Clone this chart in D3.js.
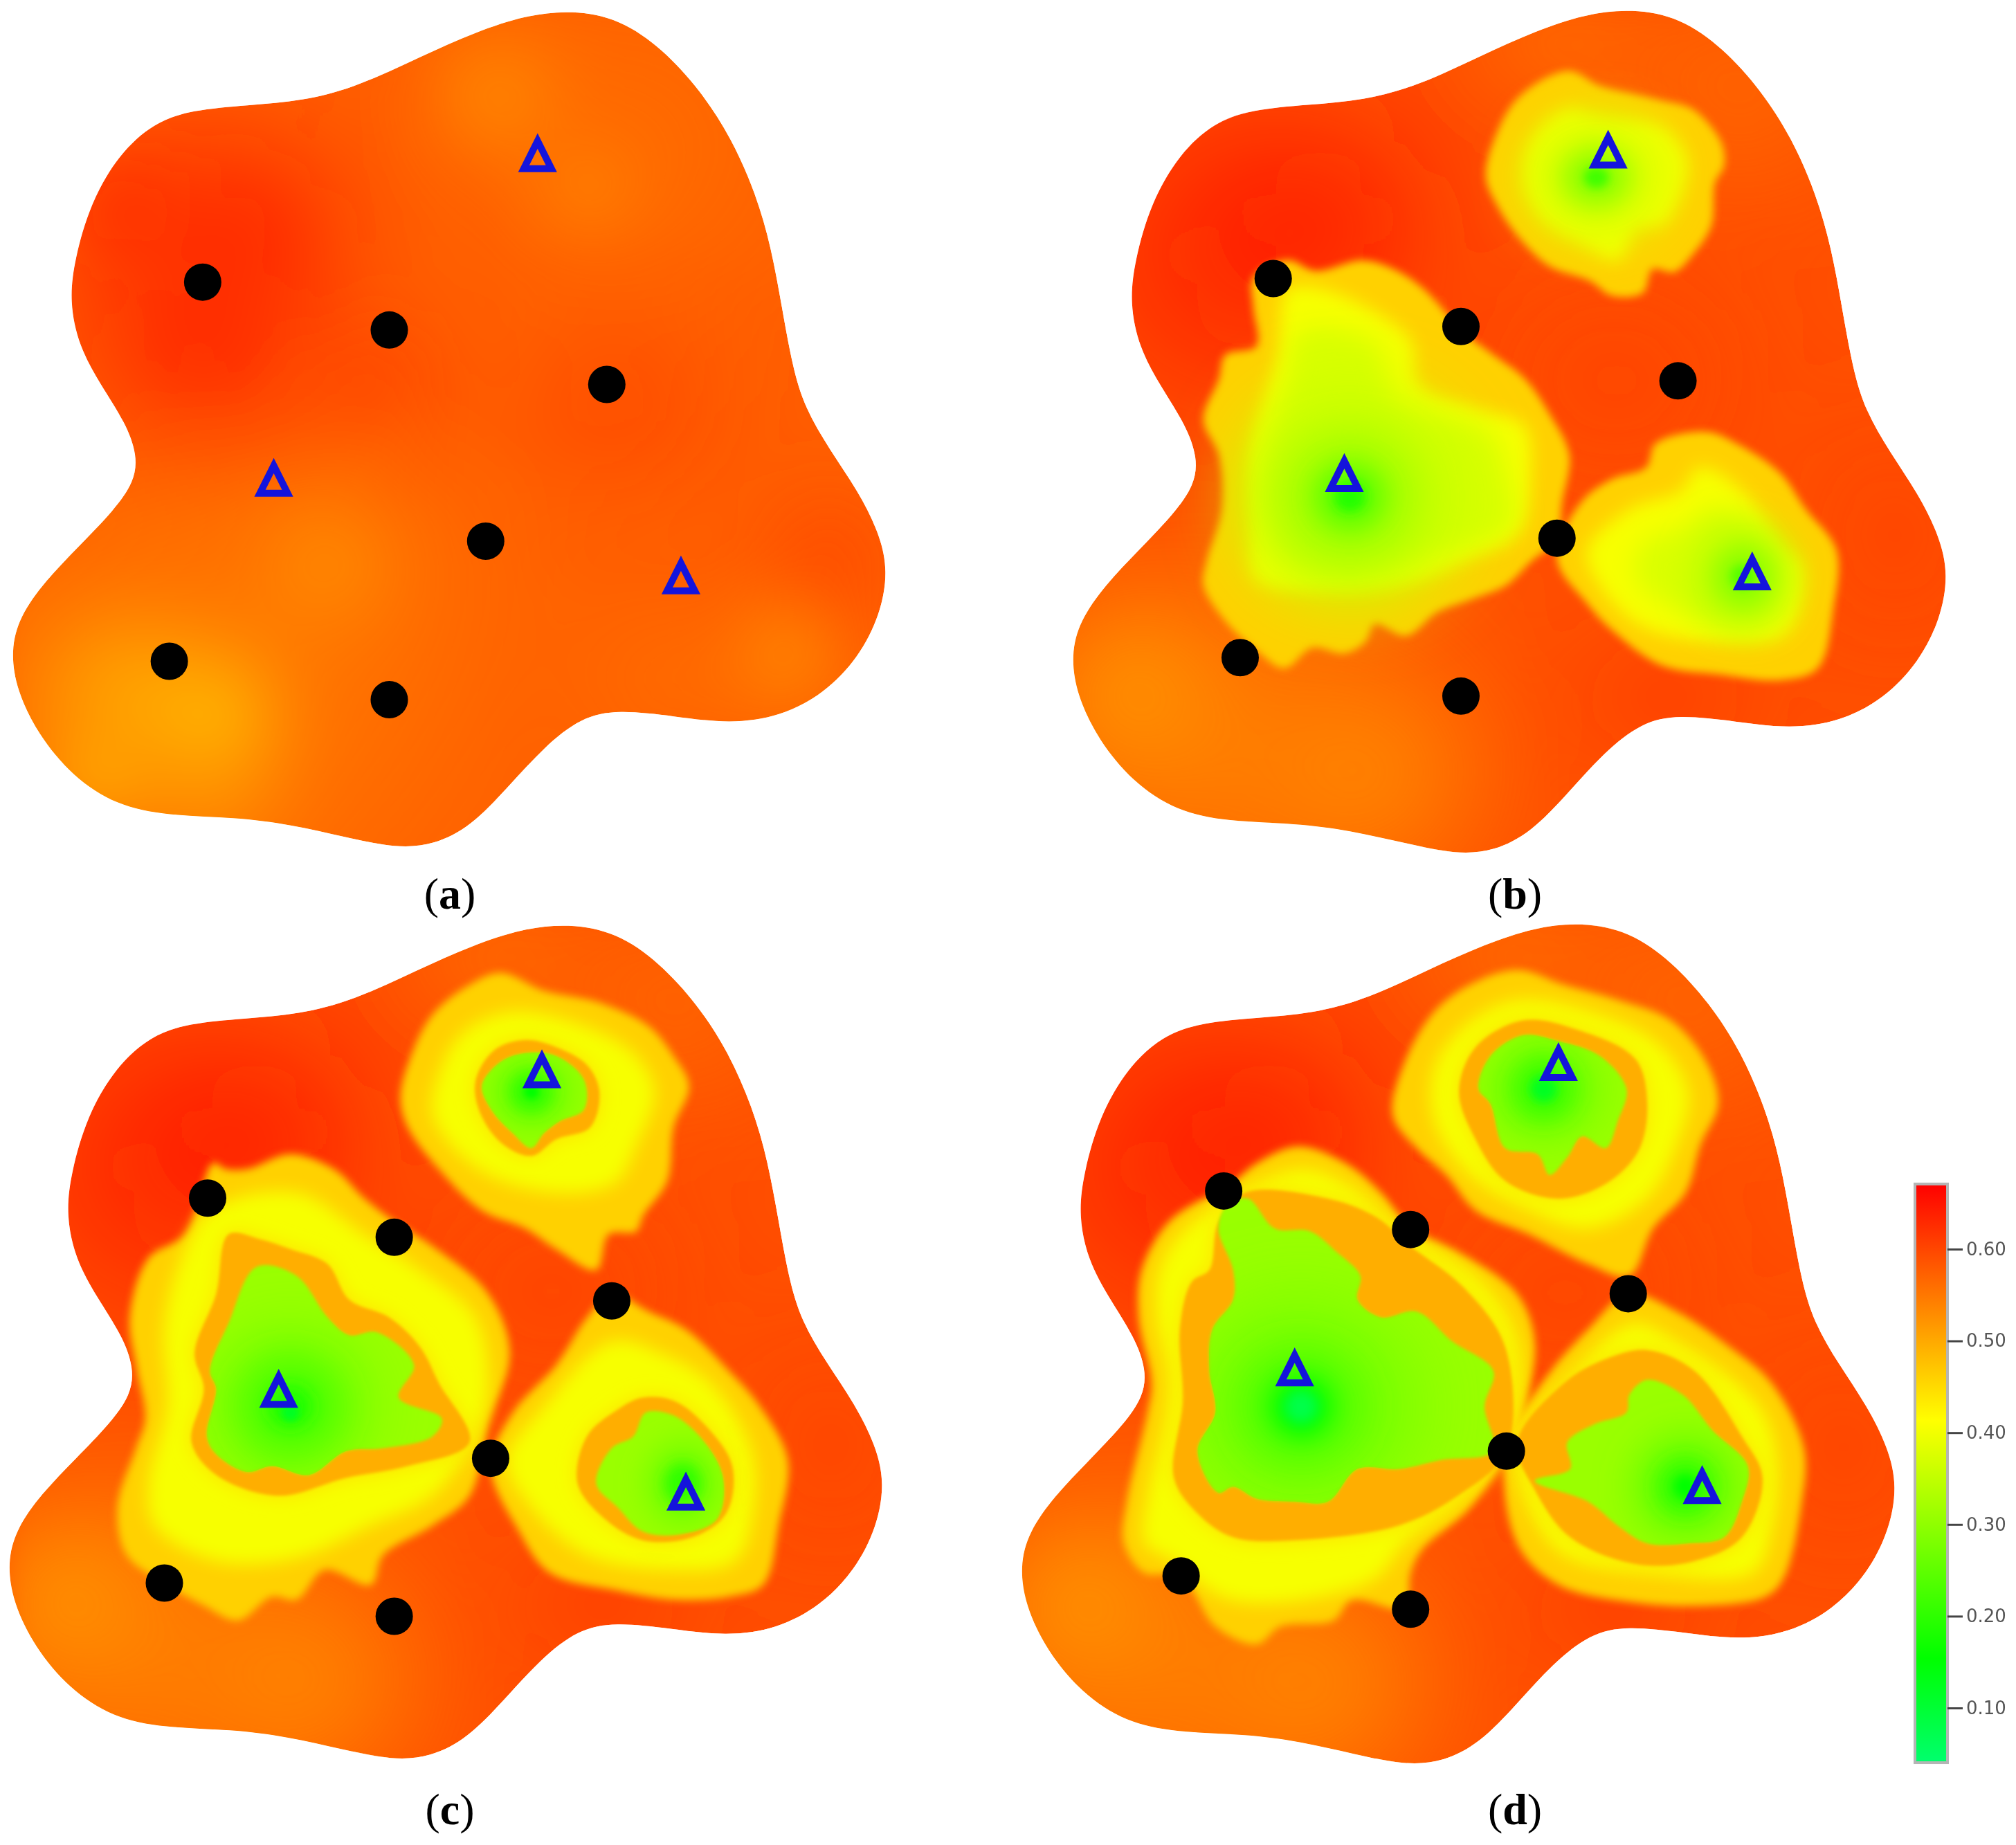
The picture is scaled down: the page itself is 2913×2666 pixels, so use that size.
<!DOCTYPE html>
<html>
<head>
<meta charset="utf-8">
<script src="https://cdn.jsdelivr.net/npm/d3@7"></script>
<style>
  html, body { margin: 0; background: #fff; }
  svg { display: block; }
</style>
</head>
<body>
<div id="chart"></div>
<script>
// ===== colour bar =====
const barTicks = [0.6, 0.5, 0.4, 0.3, 0.2, 0.1];
const colorStops = [0.0404, 0.154, 0.413, 0.671];
const colorValues = ['#00ff6e', '#00ff00', '#ffff00', '#ff0000'];
const barRange = [0.671, 0.0404];

// ===== domain outline =====
const outline = [[925,17],[1003,32],[1072,83],[1133,153],[1183,233],[1223,328],[1248,420],[1265,520],[1282,620],[1302,690],[1342,760],[1388,830],[1422,900],[1437,965],[1424,1040],[1389,1112],[1333,1173],[1262,1212],[1180,1224],[1090,1211],[1000,1200],[940,1213],[880,1263],[820,1333],[762,1397],[702,1429],[640,1434],[560,1416],[470,1394],[380,1382],[270,1379],[188,1362],[117,1313],[61,1242],[26,1166],[17,1100],[31,1043],[72,983],[128,923],[184,863],[217,815],[222,770],[203,715],[162,650],[127,585],[112,510],[120,440],[146,343],[192,261],[248,208],[310,186],[400,178],[490,171],[580,146],[680,96],[770,54],[850,26]];

// background potential: [x, y, rx, ry, value]
const backgroundA = [[1000,250,220,170,0.555],[500,950,280,160,0.55],[300,470,240,230,0.615],[390,390,120,90,0.64],[330,590,120,90,0.64],[200,350,80,80,0.625],[600,640,100,70,0.605],[1000,690,150,80,0.61],[1340,950,80,100,0.6],[800,160,90,90,0.53],[950,320,70,60,0.54],[530,950,90,90,0.53],[250,1230,320,200,0.52],[200,1170,110,80,0.485],[340,1210,90,80,0.475],[160,1310,70,60,0.495],[330,1340,100,40,0.495],[1270,1110,80,80,0.53],[1100,1150,130,60,0.55]];
const backgroundRest = [[300,430,240,210,0.64],[420,370,130,70,0.65],[900,640,180,120,0.605],[1350,900,90,170,0.605],[980,1170,130,50,0.62],[1100,150,160,120,0.56],[800,70,130,50,0.53],[230,1250,280,190,0.51],[120,1160,110,110,0.52],[500,1300,150,120,0.525]];

// ===== wells, by panel, in each panel's own crop coordinates =====
const rimB = [
  [[850,120],[900,145],[960,160],[1000,170],[1050,185],[1095,240],[1100,280],[1085,310],[1080,380],[1050,430],[1020,460],[985,455],[970,495],[920,500],[885,475],[820,450],[770,400],[735,345],[718,300],[730,240],[770,165]],
  [[400,440],[445,458],[520,440],[570,455],[620,490],[680,560],[730,600],[780,640],[820,700],[852,770],[840,850],[832,910],[790,950],[750,990],[690,1015],[640,1035],[590,1075],[540,1055],[525,1085],[490,1105],[440,1095],[395,1130],[350,1100],[300,1050],[265,990],[270,950],[295,860],[290,770],[265,710],[290,640],[300,600],[350,585],[345,520],[345,470]],
  [[1070,730],[1120,750],[1190,800],[1230,860],[1280,930],[1275,1030],[1250,1130],[1190,1150],[1090,1140],[1000,1125],[920,1065],[880,1020],[832,945],[870,850],[920,810],[975,790],[990,750]]
];
const ridgeB = [
  [[850,185],[900,200],[1000,215],[1040,270],[1030,330],[1000,380],[960,385],[930,440],[870,410],[810,370],[780,310],[790,240]],
  [[400,490],[460,490],[560,540],[600,580],[610,650],[700,690],[780,720],[790,800],[770,900],[700,940],[600,985],[480,1000],[350,980],[340,880],[340,760],[370,650],[385,600]],
  [[1060,790],[1130,830],[1190,920],[1225,960],[1200,1070],[1090,1085],[970,1060],[900,990],[880,930],[950,860],[1030,830]]
];
const limeB = [
  [[420,560],[540,580],[570,680],[720,730],[750,800],[760,890],[600,940],[440,960],[380,900],[375,760],[400,650]],
  [[1080,860],[1150,900],[1190,970],[1170,1040],[1050,1040],[960,980],[970,920],[1040,890]]
];
const spotsB = [[895,300,110,100,0.37],[895,300,55,50,0.3],[895,300,20,18,0.22],[500,840,170,170,0.35],[500,840,100,100,0.31],[500,840,55,55,0.25],[500,840,25,25,0.19],[1130,975,80,90,0.34],[1130,975,45,50,0.3],[1130,975,20,20,0.24]];
const dotsB = [[377,471],[678,552],[1026,644],[832,910],[324,1112],[678,1177]];
const trianglesB = [[914,285],[491,832],[1145,998]];

const rimC = [
  [[810,100],[880,130],[970,150],[1050,190],[1090,240],[1115,290],[1090,360],[1080,450],[1040,510],[1030,535],[985,540],[965,600],[900,565],[850,530],[780,500],[710,430],[660,360],[648,310],[665,240],[700,170],[760,120]],
  [[470,405],[540,430],[590,480],[640,520],[700,560],[790,640],[825,740],[790,860],[760,980],[700,1030],[620,1080],[600,1130],[525,1105],[480,1155],[440,1150],[385,1190],[330,1165],[270,1130],[205,1080],[190,1000],[220,900],[235,850],[220,760],[210,680],[240,580],[300,540],[345,420],[365,430],[400,430]],
  [[990,640],[1050,670],[1110,700],[1180,770],[1230,830],[1275,920],[1260,1030],[1235,1130],[1180,1150],[1090,1155],[1000,1140],[890,1110],[840,1040],[794,930],[830,840],[900,760],[950,680]]
];
const ridgeC = [
  [[830,165],[960,195],[1030,240],[1060,300],[1030,390],[1000,450],[940,470],[840,460],[760,420],[700,340],[710,270],[750,200]],
  [[340,500],[480,470],[590,540],[680,600],[770,680],[790,800],[770,880],[700,980],[600,1030],[480,1085],[350,1090],[250,1030],[240,960],[270,830],[265,700],[290,590]],
  [[990,720],[1070,740],[1150,790],[1215,900],[1220,1000],[1190,1090],[1080,1105],[950,1080],[860,1000],[820,920],[880,830]]
];
const ringC = [
  [[850,213],[900,225],[950,255],[970,300],[955,360],[900,380],[860,408],[810,385],[775,330],[770,280],[800,230]],
  [[370,540],[420,548],[470,565],[530,590],[565,650],[630,680],[680,730],[710,790],[760,890],[660,930],[560,950],[450,980],[350,945],[310,890],[330,800],[315,740],[350,640]],
  [[1040,815],[1090,820],[1140,860],[1185,930],[1175,1010],[1120,1050],[1040,1055],[980,1020],[935,960],[950,880],[1000,835]]
];
const coreC = [
  [[850,235],[900,240],[945,280],[945,330],[905,350],[880,370],[860,395],[830,370],[795,330],[780,290],[810,250]],
  [[415,595],[480,610],[530,680],[565,710],[610,705],[670,760],[645,815],[715,850],[700,880],[620,900],[560,905],[500,945],[440,930],[400,940],[350,910],[335,880],[350,800],[340,770],[370,690]],
  [[1045,840],[1090,845],[1140,890],[1170,950],[1160,1020],[1100,1045],[1040,1040],[1000,1000],[965,960],[990,900],[1025,880]]
];
const spotsC = [[860,300,70,65,0.27],[860,300,35,35,0.2],[860,300,12,12,0.16],[470,830,130,130,0.27],[470,830,80,80,0.23],[470,830,35,35,0.18],[470,840,14,14,0.12],[1105,960,60,70,0.27],[1105,960,30,35,0.2]];
const dotsC = [[336,479],[638,545],[990,652],[794,917],[266,1127],[638,1183]];
const trianglesC = [[877,294],[451,832],[1110,1005]];

const rimD = [
  [[880,95],[960,120],[1050,145],[1140,180],[1200,250],[1220,320],[1190,390],[1165,470],[1110,530],[1070,610],[1000,590],[900,540],[810,500],[760,440],[710,395],[670,340],[690,250],[740,165],[800,120]],
  [[510,392],[590,420],[650,470],[700,530],[780,570],[880,640],[910,720],[895,820],[862,905],[800,1000],[720,1070],[700,1110],[690,1170],[600,1155],[570,1190],[480,1200],[440,1230],[370,1200],[312,1115],[250,1110],[215,1060],[220,990],[255,840],[262,790],[240,680],[245,600],[290,520],[350,480],[384,467],[440,420]],
  [[1068,640],[1150,670],[1240,730],[1310,790],[1365,900],[1360,1000],[1330,1120],[1300,1150],[1200,1165],[1080,1160],[950,1130],[880,1060],[862,905],[930,780],[1000,700]]
];
const ridgeD = [
  [[880,145],[1020,170],[1120,220],[1170,300],[1150,390],[1100,480],[1000,530],[900,500],[800,440],[740,350],[740,260],[790,190]],
  [[510,430],[600,460],[680,530],[820,620],[880,720],[870,880],[780,990],[690,1060],[640,1120],[480,1160],[380,1150],[300,1090],[250,1060],[255,980],[285,850],[290,780],[270,680],[275,600],[320,530]],
  [[1075,690],[1150,720],[1290,830],[1320,920],[1310,1040],[1280,1110],[1100,1110],[960,1080],[900,1000],[880,900],[960,790]]
];
const ringD = [
  [[890,180],[980,195],[1080,245],[1100,320],[1085,400],[1030,455],[950,480],[860,450],[810,380],[782,300],[810,225]],
  [[420,470],[560,480],[640,510],[700,560],[790,630],[860,730],[862,905],[780,980],[680,1030],[500,1055],[400,1050],[340,1010],[300,950],[315,820],[310,700],[330,620],[360,600],[375,520]],
  [[1100,735],[1180,770],[1260,880],[1295,950],[1260,1050],[1180,1090],[1080,1095],[970,1050],[910,970],[880,890],[960,790],[1030,750]]
];
const coreD = [
  [[890,205],[950,215],[1020,240],[1065,295],[1050,350],[1030,395],[990,375],[965,410],[935,440],[915,405],[860,395],[835,320],[815,295],[835,240]],
  [[425,480],[470,530],[530,535],[575,570],[615,610],[610,650],[650,680],[710,670],[770,720],[840,770],[825,830],[840,905],[750,920],[680,935],[610,935],[560,990],[505,990],[440,985],[400,965],[375,975],[340,905],[370,840],[360,770],[365,700],[400,650],[400,600],[375,530],[390,490]],
  [[1100,785],[1160,810],[1210,870],[1270,930],[1260,990],[1230,1050],[1170,1060],[1100,1060],[1050,1030],[1000,990],[910,955],[970,935],[965,890],[1010,860],[1065,840],[1070,810]]
];
const spotsD = [[925,295,90,80,0.26],[925,295,50,50,0.21],[925,295,22,22,0.12],[515,830,190,170,0.265],[515,830,95,90,0.225],[515,830,50,50,0.16],[515,830,28,28,0.08],[1165,965,85,85,0.25],[1165,965,45,45,0.2],[1165,965,20,20,0.16]];
const dotsD = [[384,467],[700,532],[1068,640],[862,905],[312,1115],[700,1171]];
const trianglesD = [[950,282],[504,796],[1193,994]];

const dotsA = [[328,477],[630,558],[982,650],[786,915],[274,1118],[630,1183]];
const trianglesA = [[870,291],[443,840],[1102,1005]];

// ---- value of each band, and how soft its edge is ----
const bands = [
  { key: 'rim',   value: 0.46,  blur: 6 },
  { key: 'ridge', value: 0.405, blur: 12 },
  { key: 'lime',  value: 0.375, blur: 18 },
  { key: 'ring',  value: 0.445, blur: 14 },
  { key: 'ring',  value: 0.495, blur: 2 },
  { key: 'core',  value: 0.31,  blur: 2 }
];

const panels = [
  { id: 'a', crop: [0, 0, 1400, 1340], box: [20, 17, 1279, 1222], base: 0.575, background: backgroundA,
    dots: dotsA, triangles: trianglesA, spots: [], label: [650, 1313] },
  { id: 'b', crop: [1500, 0, 1413, 1340], box: [1552, 15, 2811, 1231], base: 0.59, background: backgroundRest,
    rim: rimB, ridge: ridgeB, lime: limeB, spots: spotsB, dots: dotsB, triangles: trianglesB, label: [2189, 1313] },
  { id: 'c', crop: [0, 1320, 1400, 1346], box: [15, 1337, 1274, 2540], base: 0.59, background: backgroundRest,
    rim: rimC, ridge: ridgeC, ring: ringC, core: coreC, spots: spotsC, dots: dotsC, triangles: trianglesC, label: [650, 2636] },
  { id: 'd', crop: [1440, 1320, 1340, 1346], box: [1478, 1335, 2737, 2547], base: 0.59, background: backgroundRest,
    rim: rimD, ridge: ridgeD, ring: ringD, core: coreD, spots: spotsD, dots: dotsD, triangles: trianglesD, label: [2189, 2636] }
];

const width = 2913, height = 2666;
const color = d3.scaleLinear().domain(colorStops).range(colorValues).clamp(true);

const svg = d3.select('#chart').append('svg').attr('width', width).attr('height', height);
const defs = svg.append('defs');
svg.append('rect').attr('width', width).attr('height', height).attr('fill', '#fff');

// one blur filter per radius
const blurIds = new Map();
function blurFilter(r) {
  const k = Math.round(r);
  if (!blurIds.has(k)) {
    const id = 'blur' + k;
    blurIds.set(k, id);
    defs.append('filter').attr('id', id)
      .attr('filterUnits', 'userSpaceOnUse')
      .attr('x', 0).attr('y', 0).attr('width', width).attr('height', height)
      .append('feGaussianBlur').attr('stdDeviation', k);
  }
  return `url(#${blurIds.get(k)})`;
}

panels.forEach(p => {
  const [cx, cy, cw, ch] = p.crop;
  const [left, top, right, bottom] = p.box;
  // crop coordinates -> page
  const x = d3.scaleLinear().domain([0, 1568]).range([cx, cx + cw]);
  const y = d3.scaleLinear().domain([0, 1568]).range([cy, cy + ch]);
  // outline coordinates -> page
  const ox = d3.scaleLinear().domain([22, 1432]).range([left, right]);
  const oy = d3.scaleLinear().domain([20, 1430]).range([top, bottom]);

  const smooth = d3.line().curve(d3.curveCatmullRomClosed.alpha(0.5));
  const rounded = d3.line().curve(d3.curveBasisClosed);
  const outlinePath = rounded(outline.map(d => [ox(d[0]), oy(d[1])]));
  const toPage = d => smooth(d.map(q => [x(q[0]), y(q[1])]));

  defs.append('clipPath').attr('id', 'clip-' + p.id).append('path').attr('d', outlinePath);

  const g = svg.append('g').attr('class', 'panel-' + p.id);
  const field = g.append('g').attr('clip-path', `url(#clip-${p.id})`);

  field.append('path').attr('d', outlinePath).attr('fill', color(p.base));

  // slow variation of the background; second blur hides the seams of the big ones
  field.append('g').attr('filter', blurFilter(24))
    .selectAll('.bg').data(p.background).enter().append('ellipse')
    .attr('class', 'bg')
    .attr('cx', d => ox(d[0])).attr('cy', d => oy(d[1]))
    .attr('rx', d => ox(d[0] + d[2]) - ox(d[0]))
    .attr('ry', d => oy(d[1] + d[3]) - oy(d[1]))
    .attr('fill', d => color(d[4]))
    .attr('filter', d => blurFilter(Math.max(d[2], d[3]) * 0.6));

  // nested bands of the wells
  bands.forEach((b, i) => {
    const polys = p[b.key] || [];
    field.selectAll('.band' + i).data(polys).enter().append('path')
      .attr('class', 'band' + i)
      .attr('d', toPage)
      .attr('fill', color(b.value))
      .attr('filter', blurFilter(b.blur));
  });

  // minima around the sources, kept inside the core where a panel has one
  const spotG = field.append('g');
  if (p.core) {
    defs.append('clipPath').attr('id', 'core-' + p.id)
      .selectAll('path').data(p.core).enter().append('path').attr('d', toPage);
    spotG.attr('clip-path', `url(#core-${p.id})`);
  }
  spotG.selectAll('.spot').data(p.spots).enter().append('ellipse')
    .attr('class', 'spot')
    .attr('cx', d => x(d[0])).attr('cy', d => y(d[1]))
    .attr('rx', d => x(d[2]) - x(0)).attr('ry', d => y(d[3]) - y(0))
    .attr('fill', d => color(d[4]))
    .attr('filter', d => blurFilter(Math.max(3, d[2] * 0.33)));

  g.selectAll('.dot').data(p.dots).enter().append('circle')
    .attr('class', 'dot')
    .attr('cx', d => x(d[0])).attr('cy', d => y(d[1]))
    .attr('r', 27).attr('fill', '#000');

  g.selectAll('.tri').data(p.triangles).enter().append('path')
    .attr('class', 'tri')
    .attr('d', d => {
      const tx = x(d[0]), by = y(d[1]) - 5;
      return `M${tx},${by - 40}L${tx + 20},${by}L${tx - 20},${by}Z`;
    })
    .attr('fill', 'none')
    .attr('stroke', '#1414dc')
    .attr('stroke-width', 10)
    .attr('stroke-linejoin', 'miter');

  const label = svg.append('text')
    .attr('x', p.label[0]).attr('y', p.label[1])
    .attr('text-anchor', 'middle')
    .attr('font-family', '"Liberation Serif", serif')
    .attr('font-size', 64)
    .attr('fill', '#000');
  label.append('tspan').text('(');
  label.append('tspan').attr('font-weight', 'bold').text(p.id);
  label.append('tspan').text(')');
});

// ---- colour bar ----
const barY = d3.scaleLinear().domain([0.6, 0.1]).range([1805, 2468]);
const barX = 2767, barW = 47;

const grad = defs.append('linearGradient').attr('id', 'bar-grad')
  .attr('x1', 0).attr('y1', 0).attr('x2', 0).attr('y2', 1);
d3.range(colorStops.length - 1, -1, -1).forEach(i => {
  grad.append('stop')
    .attr('offset', (barY(colorStops[i]) - barY(barRange[0])) / (barY(barRange[1]) - barY(barRange[0])))
    .attr('stop-color', colorValues[i]);
});

svg.append('rect')
  .attr('x', barX).attr('y', barY(barRange[0]))
  .attr('width', barW).attr('height', barY(barRange[1]) - barY(barRange[0]))
  .attr('fill', 'url(#bar-grad)')
  .attr('stroke', '#b5b5b5').attr('stroke-width', 4);

const axis = d3.axisRight(barY).tickValues(barTicks).tickFormat(d3.format('.2f')).tickSize(22).tickPadding(5);
const axisG = svg.append('g').attr('transform', `translate(${barX + barW},0)`).call(axis);
axisG.select('.domain').remove();
axisG.selectAll('line').attr('stroke', '#444').attr('stroke-width', 3);
axisG.selectAll('text')
  .attr('font-family', '"DejaVu Sans", sans-serif')
  .attr('font-size', 26)
  .attr('fill', '#555');
</script>
</body>
</html>
